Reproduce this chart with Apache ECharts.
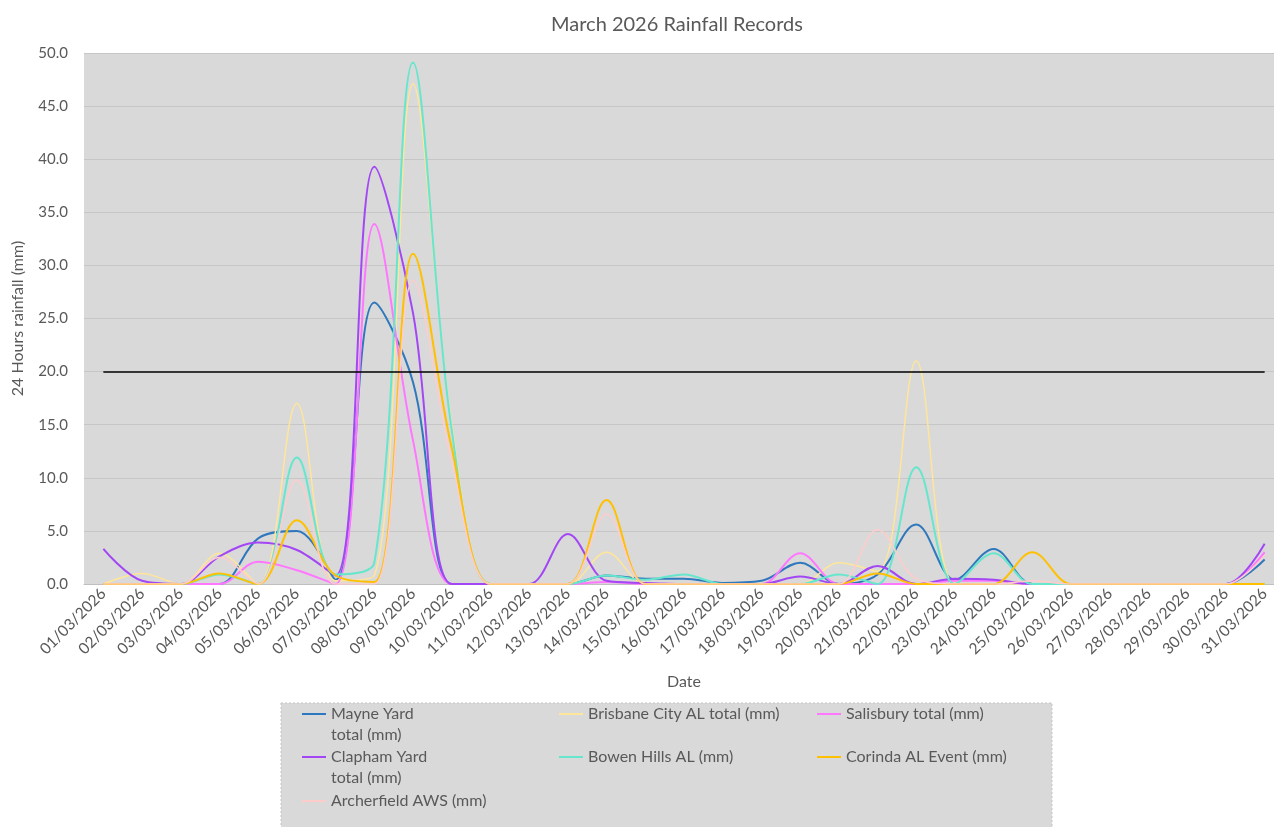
<!DOCTYPE html>
<html>
<head>
<meta charset="utf-8">
<title>March 2026 Rainfall Records</title>
<script src="https://cdn.jsdelivr.net/npm/echarts@6/dist/echarts.min.js"></script>
<style>
  html, body { margin: 0; padding: 0; background: #fff; }
  #rainChart { width: 1274px; height: 827px; }
</style>
</head>
<body>
<div id="rainChart"></div>
<script>
// category labels
const dates = [
  '01/03/2026', '02/03/2026', '03/03/2026', '04/03/2026', '05/03/2026', '06/03/2026', '07/03/2026',
  '08/03/2026', '09/03/2026', '10/03/2026', '11/03/2026', '12/03/2026', '13/03/2026', '14/03/2026',
  '15/03/2026', '16/03/2026', '17/03/2026', '18/03/2026', '19/03/2026', '20/03/2026', '21/03/2026',
  '22/03/2026', '23/03/2026', '24/03/2026', '25/03/2026', '26/03/2026', '27/03/2026', '28/03/2026',
  '29/03/2026', '30/03/2026', '31/03/2026'
]

// 24h rainfall (mm) per station
const mayneYard = [0, 0, 0, 0, 4.3, 5.0, 0.4, 26.5, 19.0, 0, 0, 0, 0, 0.8, 0.5, 0.5, 0.1, 0.3, 2.0, 0, 0.9, 5.6, 0.4, 3.3, 0, 0, 0, 0, 0, 0, 2.3]
const brisbaneCity = [0, 1.0, 0, 2.9, 0, 17.0, 0.3, 0.8, 47.1, 15.0, 0, 0, 0, 3.0, 0, 0, 0, 0, 0, 2.0, 1.2, 21.0, 0, 0, 0, 0, 0, 0, 0, 0, 0]
const salisbury = [0, 0, 0, 0, 2.1, 1.3, 0, 33.9, 13.5, 0, 0, 0, 0, 0.2, 0, 0, 0, 0, 2.9, 0, 0, 0, 0.3, 0.3, 0, 0, 0, 0, 0, 0, 3.0]
const claphamYard = [3.3, 0.3, 0, 2.6, 3.9, 3.2, 0.8, 39.3, 25.5, 0, 0, 0, 4.7, 0.3, 0.1, 0, 0, 0, 0.7, 0, 1.7, 0, 0.5, 0.4, 0, 0, 0, 0, 0, 0, 3.8]
const bowenHills = [0, 0, 0, 0.9, 0, 11.9, 0.9, 2.0, 49.1, 14.5, 0, 0, 0, 0.8, 0.4, 0.9, 0, 0, 0, 0.9, 0, 11.0, 0, 2.9, 0, 0, 0, 0, 0, 0, 0]
const corinda = [0, 0, 0, 1.0, 0, 6.0, 0.8, 0.2, 31.1, 12.8, 0, 0, 0, 7.9, 0, 0, 0, 0, 0, 0, 1.0, 0, 0, 0, 3.0, 0, 0, 0, 0, 0, 0]
const archerfield = [0, 0, 0, 2.5, 0, 9.8, 0, 0, 28.6, 11.5, 0, 0, 0, 6.6, 0, 0, 0, 0, 0, 0, 5.1, 0.5, 0, 0, 0.3, 0, 0, 0, 0, 0, 2.7]

const threshold = 20

const stations = [
  { name: 'Mayne Yard total (mm)', data: mayneYard, color: '#2F78BD', width: 2 },
  { name: 'Brisbane City AL total (mm)', data: brisbaneCity, color: '#FFE699', width: 1.5 },
  { name: 'Salisbury total (mm)', data: salisbury, color: '#FF77FF', width: 2 },
  { name: 'Clapham Yard total (mm)', data: claphamYard, color: '#A347F5', width: 2 },
  { name: 'Bowen Hills AL (mm)', data: bowenHills, color: '#66E6CC', width: 2 },
  { name: 'Corinda AL Event (mm)', data: corinda, color: '#FFC000', width: 2 },
  { name: 'Archerfield AWS (mm)', data: archerfield, color: '#FFCCCC', width: 1.5 },
]

const grey = '#595959'
const font = 'Lato, "Liberation Sans", sans-serif'

let series = stations.map((s, i) => {
  let item = {
    name: s.name,
    type: 'line',
    data: s.data,
    smooth: 0.35,
    symbol: 'none',
    showSymbol: false,
    color: s.color,
    lineStyle: { color: s.color, width: s.width },
  }
  if (i === 0) {
    // 20 mm reference line
    item.markLine = {
      silent: true,
      symbol: ['none', 'none'],
      label: { show: false },
      lineStyle: { color: '#000', type: 'solid', width: 1.5 },
      data: [[{ coord: [dates[0], threshold] }, { coord: [dates[dates.length - 1], threshold] }]],
    }
  }
  return item
})

// legend laid out like the excel box: 3 columns
const legendCols = [302, 559, 817]
const legendRows = [714, 757, 801]
const legendPos = [
  [0, 0], [1, 0], [2, 0],
  [0, 1], [1, 1], [2, 1],
  [0, 2],
]
const wrapped = {
  'Mayne Yard total (mm)': '\u00a0\nMayne Yard\ntotal (mm)',
  'Clapham Yard total (mm)': '\u00a0\nClapham Yard\ntotal (mm)',
}
let legends = stations.map((s, i) => {
  let multi = !!wrapped[s.name]
  let rowY = legendRows[legendPos[i][1]]
  return {
    data: [s.name],
    left: legendCols[legendPos[i][0]],
    top: rowY - (multi ? 31.5 : 10.5),
    padding: 0,
    icon: 'rect',
    itemWidth: 24,
    itemHeight: 2,
    selectedMode: false,
    formatter: function (name) {
      return wrapped[name] || name
    },
    textStyle: { color: grey, fontSize: 16, fontFamily: font, lineHeight: 21 },
  }
})

const myChart = echarts.init(document.getElementById('rainChart'))
myChart.setOption({
  animation: false,
  backgroundColor: '#fff',
  title: {
    text: 'March 2026 Rainfall Records',
    left: 546,
    top: 10,
    textStyle: { color: grey, fontSize: 20, fontWeight: 'normal', fontFamily: font },
  },
  graphic: [
    {
      type: 'rect',
      shape: { x: 281, y: 703, width: 771, height: 130 },
      style: { fill: '#d9d9d9', stroke: '#c4c4c4', lineWidth: 1, lineDash: [2, 2] },
      z: -1,
      silent: true,
    },
  ],
  legend: legends,
  grid: {
    show: true,
    left: 84,
    top: 53,
    width: 1200,
    height: 531,
    outerBoundsMode: 'none',
    containLabel: false,
    backgroundColor: '#d9d9d9',
    borderWidth: 0,
  },
  xAxis: {
    type: 'category',
    data: dates,
    boundaryGap: true,
    name: 'Date',
    nameLocation: 'middle',
    nameGap: 90,
    nameTextStyle: { color: grey, fontSize: 16, fontFamily: font },
    axisTick: { show: false },
    axisLine: { lineStyle: { color: '#bfbfbf' } },
    axisLabel: { rotate: 45, interval: 0, color: grey, fontSize: 15.5, fontFamily: font, margin: 7 },
  },
  yAxis: {
    type: 'value',
    min: 0,
    max: 50,
    interval: 5,
    name: '24 Hours rainfall (mm)',
    nameLocation: 'middle',
    nameGap: 58,
    nameTextStyle: { color: grey, fontSize: 16, fontFamily: font },
    axisLine: { show: false },
    axisTick: { show: false },
    axisLabel: {
      color: grey,
      fontSize: 15,
      fontFamily: font,
      margin: 16,
      formatter: function (v) {
        return v.toFixed(1)
      },
    },
    splitLine: { lineStyle: { color: '#c6c6c6', width: 1 } },
  },
  series: series,
})
</script>
</body>
</html>
